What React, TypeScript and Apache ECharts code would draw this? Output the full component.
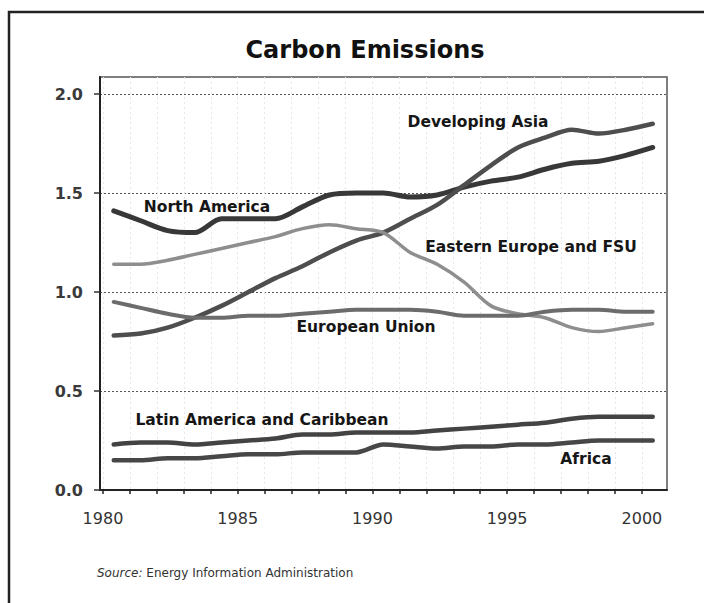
import React, { useEffect, useRef } from "react";
import * as echarts from "echarts";

const years = [1980, 1981, 1982, 1983, 1984, 1985, 1986, 1987, 1988, 1989, 1990, 1991, 1992, 1993, 1994, 1995, 1996, 1997, 1998, 1999, 2000];
const yearLabels = [1980, 1985, 1990, 1995, 2000];
const valueTicks = [0, 0.5, 1.0, 1.5, 2.0];

const northAmerica = [1.41, 1.36, 1.31, 1.30, 1.37, 1.37, 1.37, 1.43, 1.49, 1.50, 1.50, 1.48, 1.49, 1.53, 1.56, 1.58, 1.62, 1.65, 1.66, 1.69, 1.73];
const developingAsia = [0.78, 0.79, 0.82, 0.87, 0.93, 1.00, 1.07, 1.13, 1.20, 1.26, 1.30, 1.37, 1.44, 1.54, 1.64, 1.73, 1.78, 1.82, 1.80, 1.82, 1.85];
const easternEurope = [1.14, 1.14, 1.16, 1.19, 1.22, 1.25, 1.28, 1.32, 1.34, 1.32, 1.30, 1.20, 1.14, 1.05, 0.93, 0.89, 0.87, 0.82, 0.80, 0.82, 0.84];
const europeanUnion = [0.95, 0.92, 0.89, 0.87, 0.87, 0.88, 0.88, 0.89, 0.90, 0.91, 0.91, 0.91, 0.90, 0.88, 0.88, 0.88, 0.90, 0.91, 0.91, 0.90, 0.90];
const latinAmerica = [0.23, 0.24, 0.24, 0.23, 0.24, 0.25, 0.26, 0.28, 0.28, 0.29, 0.29, 0.29, 0.30, 0.31, 0.32, 0.33, 0.34, 0.36, 0.37, 0.37, 0.37];
const africa = [0.15, 0.15, 0.16, 0.16, 0.17, 0.18, 0.18, 0.19, 0.19, 0.19, 0.23, 0.22, 0.21, 0.22, 0.22, 0.23, 0.23, 0.24, 0.25, 0.25, 0.25];

const seriesNames = ["North America", "Developing Asia", "Eastern Europe and FSU", "European Union", "Latin America and Caribbean", "Africa"];
const seriesValues = [northAmerica, developingAsia, easternEurope, europeanUnion, latinAmerica, africa];
const seriesColors = ["#383838", "#4e4e4e", "#8e8e8e", "#6c6c6c", "#434343", "#474747"];
const seriesWidths = [5, 4.5, 3.5, 4, 4.5, 4.5];

const FONT = "DejaVu Sans";

export default function App() {
  const ref = useRef<HTMLDivElement>(null);
  useEffect(() => {
    if (!ref.current) return;
    const chart = echarts.init(ref.current, null, { renderer: "svg" });
    const labelStyle = (text: string, x: number, y: number) => ({
      type: "text",
      x,
      y,
      style: {
        text,
        fontFamily: FONT,
        fontWeight: "bold",
        fontSize: 15.5,
        fill: "#161616",
        align: "center",
        verticalAlign: "middle",
      },
      z: 10,
    });
    chart.setOption({
      animation: false,
      backgroundColor: "#ffffff",
      grid: {
        left: 100,
        right: 37,
        top: 77,
        bottom: 113,
        show: true,
        borderColor: "#555",
        borderWidth: 1.5,
        backgroundColor: "transparent",
      },
      xAxis: {
        type: "value",
        min: 1979.89,
        max: 2000.93,
        axisLine: { show: true, lineStyle: { color: "#222", width: 2 } },
        axisTick: {
          show: true,
          customValues: years,
          length: 4,
          lineStyle: { color: "#222", width: 1.5 },
        },
        axisLabel: {
          customValues: yearLabels,
          formatter: (v: number) => String(Math.round(v)),
          margin: 20,
          fontSize: 16,
          color: "#333",
          fontFamily: FONT,
        },
        splitLine: { show: true, lineStyle: { color: "#e6e6e6", type: [2, 3], width: 1 } },
      },
      yAxis: {
        type: "value",
        min: 0,
        max: 2.086,
        axisLine: { show: true, lineStyle: { color: "#222", width: 2 } },
        axisTick: {
          show: true,
          customValues: valueTicks,
          length: 6,
          lineStyle: { color: "#333", width: 1.5 },
        },
        axisLabel: {
          customValues: valueTicks,
          formatter: (v: number) => v.toFixed(1),
          margin: 17,
          fontSize: 16,
          fontWeight: "bold",
          color: "#3a3a3a",
          fontFamily: FONT,
        },
        splitLine: { show: true, lineStyle: { color: "#555", type: [2, 2], width: 1.2 } },
      },
      series: seriesNames.map((name, i) => ({
        name,
        type: "line",
        smooth: 0.3,
        symbol: "none",
        data: years.map((y, j) => [y + 0.4, seriesValues[i][j]]),
        lineStyle: { color: seriesColors[i], width: seriesWidths[i], cap: "round", join: "round" },
        z: 5,
      })),
      graphic: [
        {
          type: "rect",
          shape: { x: 9, y: 12, width: 730, height: 640 },
          style: { fill: "none", stroke: "#222", lineWidth: 2.5 },
          silent: true,
        },
        {
          type: "text",
          x: 365,
          y: 50,
          style: {
            text: "Carbon Emissions",
            fontFamily: FONT,
            fontWeight: "bold",
            fontSize: 24,
            fill: "#111",
            align: "center",
            verticalAlign: "middle",
          },
        },
        labelStyle("North America", 207, 207),
        labelStyle("Developing Asia", 478, 122),
        labelStyle("Eastern Europe and FSU", 531, 247),
        labelStyle("European Union", 366, 327),
        labelStyle("Latin America and Caribbean", 262, 420),
        labelStyle("Africa", 586, 459),
        {
          type: "text",
          x: 97,
          y: 573,
          style: {
            text: "{i|Source:} Energy Information Administration",
            fontFamily: FONT,
            fontSize: 12,
            fill: "#333",
            verticalAlign: "middle",
            rich: {
              i: { fontStyle: "italic", fontFamily: FONT, fontSize: 12, fill: "#333" },
            },
          },
        },
      ],
    });
    return () => chart.dispose();
  }, []);
  return (
    <div
      ref={ref}
      style={{ position: "fixed", left: 0, top: 0, width: 704, height: 603, background: "#fff" }}
    />
  );
}
